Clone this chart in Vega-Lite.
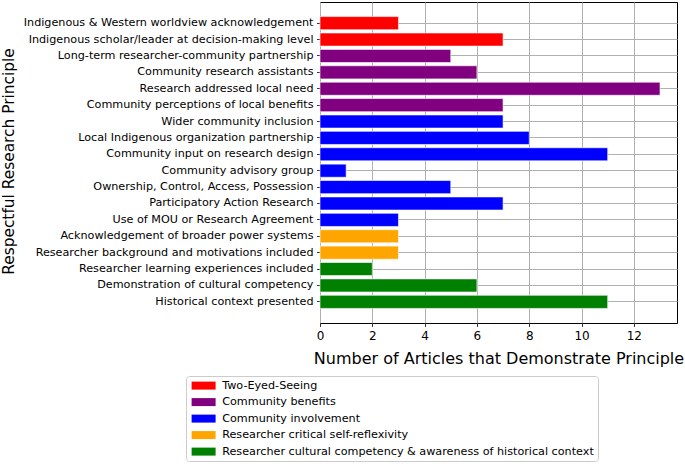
{
  "$schema": "https://vega.github.io/schema/vega-lite/v6.json",
  "width": 357,
  "height": 321,
  "autosize": "none",
  "padding": {"left": 320, "top": 2, "right": 8, "bottom": 141},
  "background": "white",
  "config": {
    "font": "DejaVu Sans",
    "view": {"stroke": "#000000", "strokeWidth": 1},
    "axis": {
      "domain": false,
      "grid": true,
      "gridColor": "#b0b0b0",
      "gridWidth": 1,
      "tickColor": "#000000",
      "tickSize": 3.5,
      "tickWidth": 0.8,
      "labelColor": "#000000",
      "titleColor": "#000000",
      "titleFontWeight": "normal",
      "titleFontSize": 16,
      "labelPadding": 3.5
    }
  },
  "data": {
    "values": [
      {"principle": "Indigenous & Western worldview acknowledgement", "count": 3, "category": "Two-Eyed-Seeing"},
      {"principle": "Indigenous scholar/leader at decision-making level", "count": 7, "category": "Two-Eyed-Seeing"},
      {"principle": "Long-term researcher-community partnership", "count": 5, "category": "Community benefits"},
      {"principle": "Community research assistants", "count": 6, "category": "Community benefits"},
      {"principle": "Research addressed local need", "count": 13, "category": "Community benefits"},
      {"principle": "Community perceptions of local benefits", "count": 7, "category": "Community benefits"},
      {"principle": "Wider community inclusion", "count": 7, "category": "Community involvement"},
      {"principle": "Local Indigenous organization partnership", "count": 8, "category": "Community involvement"},
      {"principle": "Community input on research design", "count": 11, "category": "Community involvement"},
      {"principle": "Community advisory group", "count": 1, "category": "Community involvement"},
      {"principle": "Ownership, Control, Access, Possession", "count": 5, "category": "Community involvement"},
      {"principle": "Participatory Action Research", "count": 7, "category": "Community involvement"},
      {"principle": "Use of MOU or Research Agreement", "count": 3, "category": "Community involvement"},
      {"principle": "Acknowledgement of broader power systems", "count": 3, "category": "Researcher critical self-reflexivity"},
      {"principle": "Researcher background and motivations included", "count": 3, "category": "Researcher critical self-reflexivity"},
      {"principle": "Researcher learning experiences included", "count": 2, "category": "Researcher cultural competency & awareness of historical context"},
      {"principle": "Demonstration of cultural competency", "count": 6, "category": "Researcher cultural competency & awareness of historical context"},
      {"principle": "Historical context presented", "count": 11, "category": "Researcher cultural competency & awareness of historical context"}
    ]
  },
  "mark": {"type": "bar", "stroke": "white", "strokeWidth": 0.6},
  "encoding": {
    "y": {
      "field": "principle",
      "type": "nominal",
      "sort": null,
      "scale": {"paddingInner": 0.2, "paddingOuter": 0.89},
      "axis": {
        "title": "Respectful Research Principle",
        "bandPosition": 0.5,
        "labelFontSize": 11.2,
        "labelLimit": 400,
        "titleFontSize": 15.4,
        "titleX": -306.5,
        "titleY": 159,
        "titleBaseline": "alphabetic"
      }
    },
    "x": {
      "field": "count",
      "type": "quantitative",
      "scale": {"domain": [0, 13.65], "nice": false, "zero": true},
      "axis": {
        "title": "Number of Articles that Demonstrate Principle",
        "values": [0, 2, 4, 6, 8, 10, 12],
        "format": "d",
        "labelFontSize": 12,
        "labelFlush": false,
        "titleY": 40,
        "titleBaseline": "alphabetic"
      }
    },
    "color": {
      "field": "category",
      "type": "nominal",
      "scale": {
        "domain": ["Two-Eyed-Seeing", "Community benefits", "Community involvement", "Researcher critical self-reflexivity", "Researcher cultural competency & awareness of historical context"],
        "range": ["#ff0000", "#800080", "#0000ff", "#ffa500", "#008000"]
      },
      "legend": {
        "title": null,
        "orient": "none",
        "legendX": -134,
        "legendY": 374,
        "direction": "vertical",
        "strokeColor": "#cccccc",
        "fillColor": "white",
        "cornerRadius": 3,
        "padding": 4,
        "symbolType": "M-3,-1H3V1H-3Z",
        "symbolSize": 64,
        "symbolOffset": 8,
        "symbolStrokeWidth": 0,
        "symbolOpacity": 1,
        "labelOffset": 13,
        "labelFontSize": 11.2,
        "labelColor": "#000000",
        "labelLimit": 500,
        "rowPadding": 4.5
      }
    }
  }
}
